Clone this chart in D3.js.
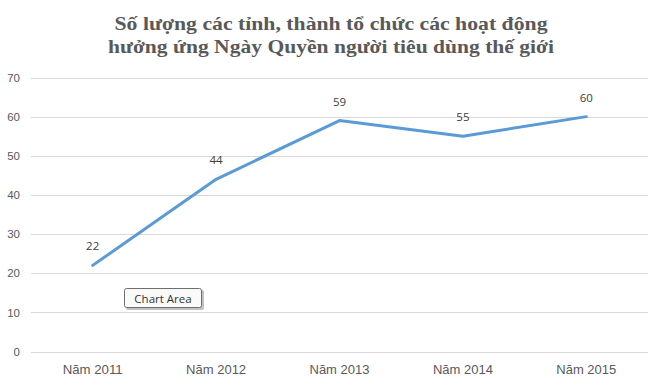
<!DOCTYPE html>
<html lang="vi">
<head>
<meta charset="utf-8">
<script src="https://d3js.org/d3.v7.min.js"></script>
<style>
  body { margin: 0; background: #fff; }
  svg text { font-family: "Liberation Sans", Arial, sans-serif; }
</style>
</head>
<body>
<script>
  var years = ["Năm 2011", "Năm 2012", "Năm 2013", "Năm 2014", "Năm 2015"];
  var counts = [22, 44, 59, 55, 60];
  var yTicks = [0, 10, 20, 30, 40, 50, 60, 70];
  var titleLines = ["Số lượng các tỉnh, thành tổ chức các hoạt động",
                    "hưởng ứng Ngày Quyền người tiêu dùng thế giới"];
  var titleWidths = [433, 446];

  var W = 660, H = 385;
  var svg = d3.select("body").append("svg").attr("width", W).attr("height", H);

  var x = d3.scaleBand().domain(years).range([31, 648]);
  var y = d3.scaleLinear().domain([0, 70]).range([351.5, 77.5]);

  // title (reference is slightly stretched horizontally)
  svg.selectAll(".title").data(titleLines).enter().append("text")
    .attr("x", 331).attr("y", function(d, i) { return 30 + i * 22.5; })
    .attr("text-anchor", "middle")
    .attr("textLength", function(d, i) { return titleWidths[i]; })
    .attr("lengthAdjust", "spacingAndGlyphs")
    .style("font-family", "'Liberation Serif', 'Times New Roman', serif")
    .style("font-weight", "bold").style("font-size", "19px")
    .attr("fill", "#595959")
    .text(function(d) { return d; });

  // gridlines
  svg.append("g").selectAll("line").data(yTicks).enter().append("line")
    .attr("x1", 31).attr("x2", 648)
    .attr("y1", function(d) { return Math.round(y(d)) + 0.5; })
    .attr("y2", function(d) { return Math.round(y(d)) + 0.5; })
    .attr("stroke", "#d9d9d9").attr("stroke-width", 1);

  // y labels
  var yAxis = svg.append("g").attr("transform", "translate(31,0)")
    .call(d3.axisLeft(y).tickValues(yTicks).tickSize(0).tickPadding(11));
  yAxis.select(".domain").remove();
  yAxis.selectAll("text").attr("fill", "#595959").style("font-size", "11.5px");

  // x labels
  var xAxis = svg.append("g").attr("transform", "translate(0,352)")
    .call(d3.axisBottom(x).tickSize(0).tickPadding(13));
  xAxis.select(".domain").remove();
  xAxis.selectAll("text").attr("fill", "#595959").style("font-size", "12px")
    .attr("textLength", 60).attr("lengthAdjust", "spacingAndGlyphs");

  // line
  var pts = years.map(function(d, i) { return [x(d) + x.bandwidth() / 2, y(counts[i])]; });
  svg.append("path").datum(pts)
    .attr("d", d3.line())
    .attr("fill", "none").attr("stroke", "#5b9bd5")
    .attr("stroke-width", 3).attr("stroke-linejoin", "round").attr("stroke-linecap", "round");

  // data labels
  svg.selectAll(".lbl").data(pts).enter().append("text")
    .attr("x", function(d) { return d[0]; })
    .attr("y", function(d) { return d[1] - 15; })
    .attr("text-anchor", "middle")
    .style("font-family", "'Open Sans', sans-serif").style("font-size", "11.5px")
    .attr("fill", "#404040")
    .text(function(d, i) { return counts[i]; });

  // tooltip "Chart Area"
  var tip = svg.append("g").attr("transform", "translate(124,288)");
  tip.append("rect").attr("x", 2).attr("y", 2).attr("width", 78).attr("height", 20)
    .attr("rx", 2).attr("fill", "#999").attr("opacity", 0.6);
  tip.append("rect").attr("x", 0.5).attr("y", 0.5).attr("width", 77).attr("height", 19)
    .attr("rx", 2).attr("fill", "#fafafa").attr("stroke", "#6e6e6e");
  tip.append("text").attr("x", 39).attr("y", 14.5).attr("text-anchor", "middle")
    .style("font-family", "'Open Sans', sans-serif").style("font-size", "11.5px")
    .attr("fill", "#333").text("Chart Area");
</script>
</body>
</html>
